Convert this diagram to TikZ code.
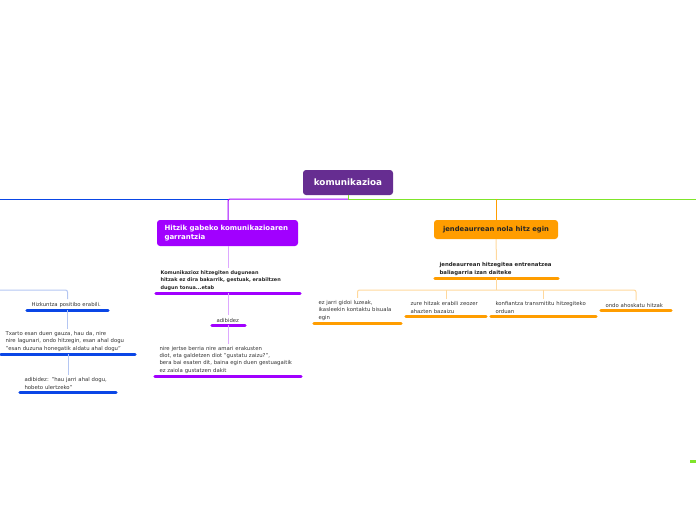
\documentclass[tikz,border=0pt]{standalone}
\usepackage{fontspec}
\setmainfont{DejaVu Sans}
\definecolor{rootc}{HTML}{662D91}
\definecolor{purp}{HTML}{A100FF}
\definecolor{purpl}{HTML}{DDA8FF}
\definecolor{bluec}{HTML}{0A46E6}
\definecolor{bluel}{HTML}{B4C6F2}
\definecolor{orc}{HTML}{FF9D00}
\definecolor{orl}{HTML}{FFD89C}
\definecolor{grc}{HTML}{7FE52A}
\definecolor{txt}{HTML}{333333}
\begin{document}
\begin{tikzpicture}[x=1pt,y=-1pt,
  mainbox/.style={rounded corners=3pt, inner sep=0pt, align=left},
  leaf/.style={anchor=south, inner xsep=4.5pt, inner ysep=2.6pt, align=left, text width=#1,
     font=\fontsize{5.35}{7.2}\selectfont, text=txt},
  bleaf/.style={leaf=#1, font=\fontsize{4.95}{7.2}\selectfont\bfseries, text=black!85},
  pul/.style={draw=purp, line width=3pt, line cap=round},
  bul/.style={draw=bluec, line width=3pt, line cap=round},
  oul/.style={draw=orc, line width=3pt, line cap=round},
  plink/.style={draw=purpl, line width=1pt, rounded corners=2pt},
  blink/.style={draw=bluel, line width=1pt, rounded corners=2pt},
  olink/.style={draw=orl, line width=1pt, rounded corners=2pt}]
\useasboundingbox (0,0) rectangle (696,520);

% root
\node[mainbox, fill=rootc, text=white, minimum width=90pt, minimum height=25pt,
  font=\fontsize{8.8}{10}\selectfont\bfseries, align=center] (root) at (348,182.5) {komunikazioa};

% main branch nodes
\node[mainbox, fill=purp, text=white, minimum width=141pt, minimum height=26pt,
  text width=126pt, font=\fontsize{7}{9.5}\selectfont\bfseries] (p1) at (227.5,233)
  {Hitzik gabeko komunikazioaren\\garrantzia};
\node[mainbox, fill=orc, text=black!85, minimum width=124pt, minimum height=19pt,
  font=\fontsize{6.8}{8}\selectfont\bfseries, align=center] (o1) at (496,229.5)
  {jendeaurrean nola hitz egin};

% main connectors
\coordinate (j) at (348,199);
\coordinate (pj) at (228,199);
\coordinate (bL) at (0,199);
\coordinate (gR) at (696,199);
\coordinate (oj0) at (496,199);
\draw[draw=grc, line width=1pt] (root.south) -- (j) -- (gR);
\draw[draw=purp, line width=1pt, rounded corners=2pt] (j) -- (pj) -- (p1.north -| pj);
\draw[draw=bluec, line width=1pt] (pj) -- (bL);
\draw[draw=orc, line width=1pt, rounded corners=2pt] (oj0) -- (o1.north);

% purple subtree
\node[bleaf=135pt] (p2) at (228,293)
  {Komunikazioz hitzegiten dugunean\\hitzak ez dira bakarrik, gestuak, erabiltzen\\dugun tonua...etab};
\node[leaf=24pt] (p3) at (228.5,325) {adibidez};
\node[leaf=137pt] (p4) at (228,376)
  {nire jertse berria nire amari erakusten\\diot, eta galdetzen diot "gustatu zaizu?",\\bera bai esaten dit, baina egin duen gestuagaitik\\ez zaiola gustatzen dakit};
\draw[pul] (p2.south west) -- (p2.south east);
\draw[pul] (p3.south west) -- (p3.south east);
\draw[pul] (p4.south west) -- (p4.south east);
\draw[plink] (p1.south -| pj) -- (p2.north -| pj);
\draw[plink] (p2.south -| pj) -- (p3.north -| pj);
\draw[plink] (p3.south -| pj) -- (p4.north -| pj);

% blue subtree
\coordinate (bl0) at (0,290);
\node[leaf=72pt] (b1) at (67.5,310) {Hizkuntza positibo erabili.};
\node[leaf=125pt] (b2) at (68,354)
  {Txarto esan duen gauza, hau da, nire\\nire lagunari, ondo hitzegin, esan ahal dogu\\"esan duzuna honegatik aldatu ahal dogu"};
\node[leaf=87pt] (b3) at (68,392) {adibidez: "hau jarri ahal dogu,\\hobeto ulertzeko"};
\draw[bul] (b1.south west) -- (b1.south east);
\draw[bul] (b2.south west) -- (b2.south east);
\draw[bul] (b3.south west) -- (b3.south east);
\draw[blink] (bl0) -| (b1.north);
\draw[blink] (b1.south) -- (b2.north -| b1.south);
\draw[blink] (b2.south) -- (b3.north -| b2.south);

% orange subtree
\node[bleaf=114pt, font=\fontsize{5.4}{7.2}\selectfont\bfseries] (o2) at (496.5,278)
  {jendeaurrean hitzegitea entrenatzea\\baliagarria izan daiteke};
\node[leaf=78pt] (o3) at (357.5,323) {ez jarri gidoi luzeak,\\ikasleekin kontaktu bisuala\\egin};
\node[leaf=71pt] (o4) at (446,316) {zure hitzak erabili zeozer\\ahazten bazaizu};
\node[leaf=96pt] (o5) at (543.5,316) {konfiantza transmititu hitzegiteko\\orduan};
\node[leaf=61pt] (o6) at (636,310) {ondo ahoskatu hitzak};
\draw[oul] (o2.south west) -- (o2.south east);
\draw[oul] (o3.south west) -- (o3.south east);
\draw[oul] (o4.south west) -- (o4.south east);
\draw[oul] (o5.south west) -- (o5.south east);
\draw[oul] (o6.south west) -- (o6.south east);
\draw[olink] (o1.south) -- (o2.north);
\coordinate (oj) at (496.5,290);
\draw[olink] (o2.south) -- (oj);
\draw[olink] (o3.north) |- (oj) -| (o6.north);
\draw[olink] (o4.north) -- (o4.north |- oj);
\draw[olink] (o5.north) -- (o5.north |- oj);

% green fragment at the right edge
\fill[grc] (690,460) rectangle (696,463);
\end{tikzpicture}
\end{document}
